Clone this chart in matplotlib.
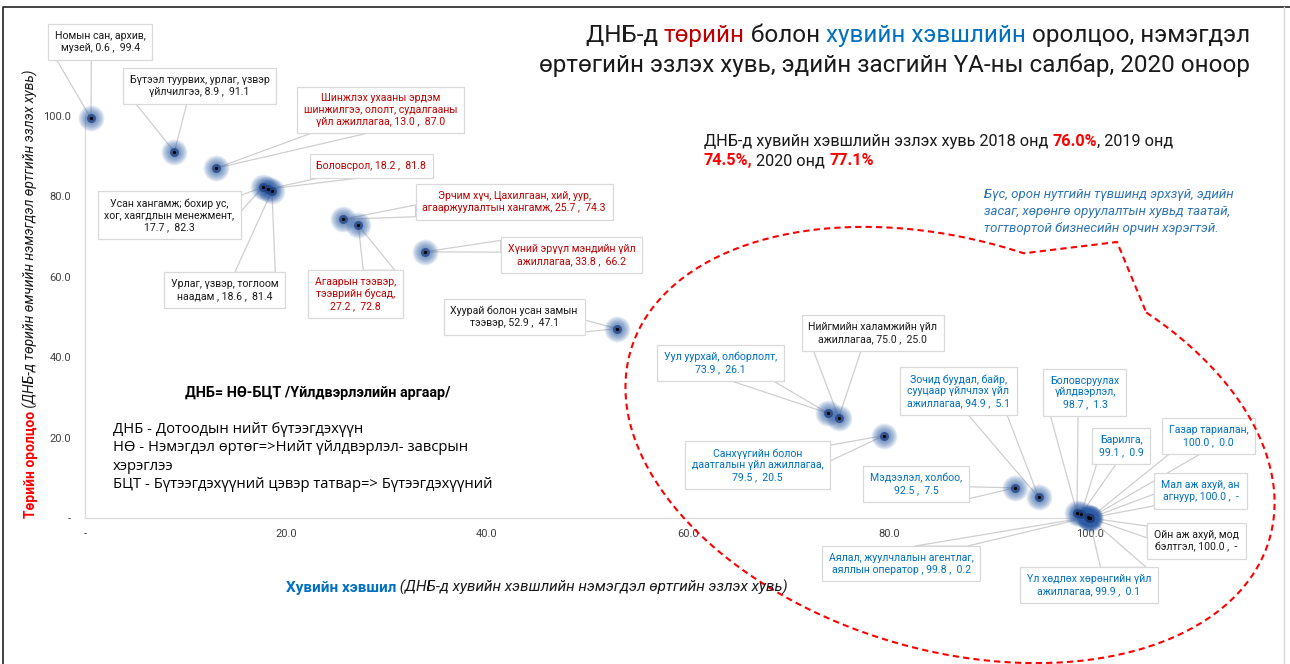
import numpy as np
import matplotlib
matplotlib.use("Agg")
import matplotlib.pyplot as plt
from matplotlib.transforms import IdentityTransform, Affine2D
from matplotlib.patches import Polygon
from matplotlib.lines import Line2D

# ---- data -------------------------------------------------------------
names = [
    "Номын сан, архив,\nмузей, ",
    "Бүтээл туурвих, урлаг, үзвэр\nүйлчилгээ, ",
    "Шинжлэх ухааны эрдэм\nшинжилгээ, ололт, судалгааны\nүйл ажиллагаа, ",
    "Боловсрол, ",
    "Усан хангамж; бохир ус,\nхог, хаягдлын менежмент,\n",
    "Урлаг, үзвэр, тоглоом\nнаадам , ",
    "Эрчим хүч, Цахилгаан, хий, уур,\nагааржуулалтын хангамж, ",
    "Агаарын тээвэр,\nтээврийн бусад,\n",
    "Хүний эрүүл мэндийн үйл\nажиллагаа, ",
    "Хуурай болон усан замын\nтээвэр, ",
    "Нийгмийн халамжийн үйл\nажиллагаа, ",
    "Уул уурхай, олборлолт,\n",
    "Санхүүгийн болон\nдаатгалын үйл ажиллагаа,\n",
    "Зочид буудал, байр,\nсууцаар үйлчлэх үйл\nажиллагаа, ",
    "Мэдээлэл, холбоо,\n",
    "Боловсруулах\nүйлдвэрлэл,\n",
    "Барилга,\n",
    "Газар тариалан,\n",
    "Мал аж ахуй, ан\nагнуур, ",
    "Ойн аж ахуй, мод\nбэлтгэл, ",
    "Аялал, жуулчлалын агентлаг,\nаяллын оператор , ",
    "Үл хөдлөх хөрөнгийн үйл\nажиллагаа, ",
]
private = [0.6, 8.9, 13.0, 18.2, 17.7, 18.6, 25.7, 27.2, 33.8, 52.9, 75.0,
           73.9, 79.5, 94.9, 92.5, 98.7, 99.1, 100.0, 100.0, 100.0, 99.8, 99.9]
state = [99.4, 91.1, 87.0, 81.8, 82.3, 81.4, 74.3, 72.8, 66.2, 47.1, 25.0,
         26.1, 20.5, 5.1, 7.5, 1.3, 0.9, 0.0, None, None, 0.2, 0.1]

# label styling / placement
label_color = ["k", "k", "r", "r", "k", "k", "r", "r", "r", "k", "k",
               "b", "b", "b", "b", "b", "b", "b", "b", "k", "b", "b"]
label_pos = [(1.5, 118.4), (11.4, 107.5), (29.4, 101.5), (28.5, 87.6),
             (8.4, 75.4), (13.9, 56.7), (42.7, 78.6), (26.9, 55.7),
             (48.4, 65.4), (42.7, 50.0), (78.4, 46.0), (63.2, 38.6),
             (66.9, 13.2), (86.9, 31.6), (82.7, 8.5), (99.5, 31.3),
             (103.1, 17.9), (111.8, 20.4), (111.0, 6.7), (110.6, -5.7),
             (81.2, -11.4), (99.9, -16.7)]
colors = {"k": "#1a1a1a", "r": "#c00000", "b": "#0070c0"}

ticks = [0, 20, 40, 60, 80, 100]
tick_labels = ["-", "20.0", "40.0", "60.0", "80.0", "100.0"]

W, H = 1290, 664
plt.rcParams["font.family"] = ["Roboto", "DejaVu Sans"]
fig = plt.figure(figsize=(W / 100, H / 100), dpi=100)
px = Affine2D().scale(1, -1).translate(0, H)   # image pixels -> display
renderer = fig.canvas.get_renderer()

ax = fig.add_axes([85 / W, 1 - 518 / H, (1090 - 85) / W, (518 - 116) / H])
ax.set_xlim(0, 100)
ax.set_ylim(0, 100)
for s in ["top", "right"]:
    ax.spines[s].set_visible(False)
for s in ["left", "bottom"]:
    ax.spines[s].set_color("#d9d9d9")
ax.set_xticks(ticks)
ax.set_xticklabels(tick_labels)
ax.set_yticks(ticks)
ax.set_yticklabels(tick_labels)
ax.tick_params(length=0, labelsize=8, labelcolor="#404040")
ax.tick_params(axis="y", pad=10)
ax.tick_params(axis="x", pad=8)

yvals = [0.0 if v is None else v for v in state]

# glowing markers
for r in np.linspace(13, 3, 11):
    ax.scatter(private, yvals, s=(1.44 * r) ** 2, color="#2d5ca6", alpha=0.10,
               linewidths=0, zorder=6, clip_on=False)
ax.scatter(private, yvals, s=(1.44 * 4.5) ** 2, color="#1c3c78", alpha=0.7,
           linewidths=0, zorder=6, clip_on=False)
ax.scatter(private, yvals, s=(1.44 * 1.6) ** 2, color="black",
           linewidths=0, zorder=7, clip_on=False)

# labels
texts = []
for nm, xv, yv, c, (lx, ly) in zip(names, private, state, label_color, label_pos):
    ys = "-" if yv is None else f"{yv:.1f}"
    t = ax.text(lx, ly, f"{nm}{xv:.1f} ,  {ys}", ha="center", va="center",
                multialignment="center", fontsize=7.6, color=colors[c], zorder=5,
                clip_on=False,
                bbox=dict(boxstyle="square,pad=0.65", fc="white", ec="#d9d9d9", lw=0.9))
    texts.append(t)

fig.canvas.draw()
for t, xv, yv in zip(texts, private, yvals):
    bb = t.get_bbox_patch().get_window_extent(renderer)
    tip = ax.transData.transform((xv, yv))
    cx, cy = (bb.x0 + bb.x1) / 2, (bb.y0 + bb.y1) / 2
    w, h = bb.width, bb.height
    dxn, dyn = (tip[0] - cx) / w, (tip[1] - cy) / h
    if abs(dxn) > abs(dyn):
        ex = bb.x1 if dxn > 0 else bb.x0
        if tip[1] > cy:
            b1, b2 = (ex, bb.y1 - h / 12), (ex, bb.y1 - 5 * h / 12)
        else:
            b1, b2 = (ex, bb.y0 + h / 12), (ex, bb.y0 + 5 * h / 12)
    else:
        ey = bb.y1 if dyn > 0 else bb.y0
        if tip[0] < cx:
            b1, b2 = (bb.x0 + w / 12, ey), (bb.x0 + 5 * w / 12, ey)
        else:
            b1, b2 = (bb.x1 - w / 12, ey), (bb.x1 - 5 * w / 12, ey)
    pts = ax.transData.inverted().transform([b1, tip, b2])
    ax.add_patch(Polygon(pts, closed=True, fc="none", ec="#cfcfcf", lw=0.9,
                         zorder=4, clip_on=False))


def rich(x, y, pieces, ha="left", rotation=0, **common):
    """Draw multi-style text; x, y in image pixels, baseline anchored."""
    ws = []
    for s, p in pieces:
        t = fig.text(0, 0, s + "|", transform=IdentityTransform(), **common, **p)
        w1 = t.get_window_extent(renderer).width
        t.set_text("|")
        w2 = t.get_window_extent(renderer).width
        t.remove()
        ws.append(w1 - w2)
    total = sum(ws)
    off = -total if ha == "right" else 0
    for (s, p), w in zip(pieces, ws):
        if rotation == 90:
            xx, yy = x, H - y + off
        else:
            xx, yy = x + off, H - y
        fig.text(xx, yy, s, transform=IdentityTransform(), ha="left", va="baseline",
                 rotation=rotation, rotation_mode="anchor", **common, **p)
        off += w


K = {"color": "#1a1a1a"}
R = {"color": "#c00000"}
B = {"color": "#0070c0"}
rich(1250, 42, [("ДНБ-д ", K), ("төрийн", R), (" болон ", K),
                ("хувийн хэвшлийн", B), (" оролцоо, нэмэгдэл", K)],
     ha="right", fontsize=17.5)
rich(1250, 72, [("өртөгийн эзлэх хувь, эдийн засгийн ҮА-ны салбар, 2020 оноор", K)],
     ha="right", fontsize=17.5)

RB = {"color": "#ff0000", "fontweight": "bold"}
rich(704, 146, [("ДНБ-д хувийн хэвшлийн эзлэх хувь 2018 онд ", K), ("76.0%", RB),
                (", 2019 онд", K)], fontsize=11.7)
rich(704, 165, [("74.5%,", RB), (" 2020 онд ", K), ("77.1%", RB)], fontsize=11.7)

for i, line in enumerate(["Бүс, орон нутгийн түвшинд эрхзүй, эдийн",
                          "засаг, хөрөнгө оруулалтын хувьд таатай,",
                          "тогтвортой бизнесийн орчин хэрэгтэй."]):
    rich(984, 198 + 17 * i, [(line, {"color": "#2e75b6", "style": "italic"})],
         fontsize=9.5)

rich(286, 592, [("Хувийн хэвшил", {"color": "#0070c0", "fontweight": "bold"}),
                (" (ДНБ-д хувийн хэвшлийн нэмэгдэл өртгийн эзлэх хувь)",
                 {"color": "#1a1a1a", "style": "italic"})], fontsize=11)
rich(35, 518, [("Төрийн оролцоо", {"color": "#ff0000", "fontweight": "bold"}),
               (" (ДНБ-д төрийн өмчийн нэмэгдэл өртгийн эзлэх хувь)",
                {"color": "#1a1a1a", "style": "italic"})], rotation=90, fontsize=10.0)

rich(185, 397, [("ДНБ= НӨ-БЦТ /Үйлдвэрлэлийн аргаар/", {"color": "black", "fontweight": "bold"})],
     fontsize=10.4)
for i, line in enumerate(["ДНБ - Дотоодын нийт бүтээгдэхүүн",
                          "НӨ - Нэмэгдэл өртөг=>Нийт үйлдвэрлэл- завсрын",
                          "хэрэглээ",
                          "БЦТ - Бүтээгдэхүүний цэвэр татвар=> Бүтээгдэхүүний"]):
    rich(113, 433 + 18.4 * i, [(line, {"color": "black", "family": ["Open Sans", "DejaVu Sans"]})],
         fontsize=10.6)

# red dashed callout around the private-sector cluster
cx0, cy0, ea, eb, th = 950, 445, 333, 205, np.radians(16.5)
u_ax = np.array([np.cos(th), np.sin(th)])
v_ax = np.array([-np.sin(th), np.cos(th)])


def ang(p):
    d = np.array(p) - [cx0, cy0]
    return np.arctan2(d @ v_ax / eb, d @ u_ax / ea)


tA, tB = ang((1020, 263)), ang((1135, 320))
ts = np.linspace(tB, tA + 2 * np.pi, 300)
pts = np.array([cx0, cy0]) + np.outer(ea * np.cos(ts), u_ax) + np.outer(eb * np.sin(ts), v_ax)
pts = np.vstack([pts, [1117, 242], pts[:1]])
ax.add_line(Line2D(pts[:, 0], pts[:, 1], transform=px, color="#ff0000", lw=1.5,
                   ls=(0, (3, 2)), zorder=8, clip_on=False))

# outer frame
fig.add_artist(Line2D([3, 3, 1290], [H, 7, 7], transform=px, color="#222222", lw=1.2))
fig.add_artist(Line2D([1284, 1284], [7, H], transform=px, color="#d9d9d9", lw=1))

fig.savefig("out.png", dpi=100)
